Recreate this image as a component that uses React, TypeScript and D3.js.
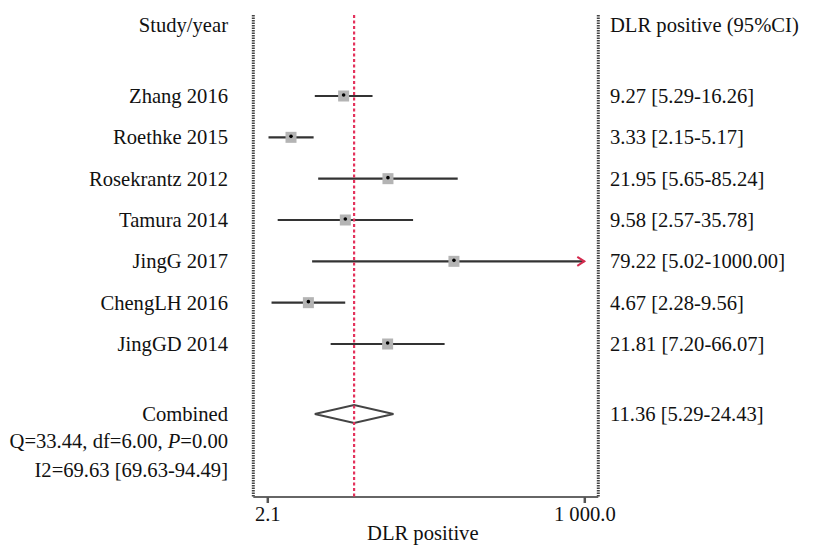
import React, { useEffect, useRef } from 'react';
import * as d3 from 'd3';

const studies = ['Zhang 2016', 'Roethke 2015', 'Rosekrantz 2012', 'Tamura 2014', 'JingG 2017', 'ChengLH 2016', 'JingGD 2014'];
const estimate = [9.27, 3.33, 21.95, 9.58, 79.22, 4.67, 21.81];
const lower = [5.29, 2.15, 5.65, 2.57, 5.02, 2.28, 7.2];
const upper = [16.26, 5.17, 85.24, 35.78, 1000.0, 9.56, 66.07];
const pooled = { est: 11.36, lo: 5.29, hi: 24.43 };
const tickValues = [2.1, 1000];
const tickLabels = ['2.1', '1 000.0'];
const statsQ = { q: '33.44', df: '6.00', p: '0.00' };
const statsI2 = 'I2=69.63 [69.63-94.49]';

const W = 813;
const H = 547;
const FONT = '"Liberation Serif", "Times New Roman", serif';
const FS = 20.6;

export default function App() {
  const axisRef = useRef<SVGGElement>(null);

  const x = d3.scaleLog().domain([2.1, 1000]).range([267.3, 584.3]);
  const y = d3.scalePoint<string>().domain(studies).range([96, 344]);
  const yPooled = 414;
  const axisY = 497;
  const boxTop = 15;
  const boxL = x(2.1) - 14;
  const boxR = x(1000) + 14;
  const labelX = 228;
  const ciX = 610;

  useEffect(() => {
    const g = d3.select(axisRef.current);
    g.selectAll('*').remove();
    g.call(
      d3.axisBottom(x)
        .tickValues(tickValues)
        .tickFormat((d, i) => tickLabels[i])
        .tickSize(6)
        .tickSizeOuter(0)
        .tickPadding(3)
    );
    g.select('.domain').remove();
    g.selectAll('.tick line').attr('stroke', '#555').attr('stroke-width', 2.5);
    g.selectAll('.tick text')
      .attr('font-family', FONT)
      .attr('font-size', FS)
      .attr('fill', '#111');
  }, []);

  const diamond = [
    [x(pooled.lo), yPooled],
    [x(pooled.est), yPooled - 9],
    [x(pooled.hi), yPooled],
    [x(pooled.est), yPooled + 9],
  ];

  return (
    <svg width={W} height={H} style={{ position: 'absolute', left: 0, top: 0, background: '#fff' }}>
      <g fontFamily={FONT} fontSize={FS} fill="#111">
        <text x={labelX} y={32} textAnchor="end">Study/year</text>
        <text x={ciX} y={32}>DLR positive (95%CI)</text>
        {studies.map((s, i) => (
          <g key={s}>
            <text x={labelX} y={(y(s) as number) + 7} textAnchor="end">{s}</text>
            <text x={ciX} y={(y(s) as number) + 7}>
              {`${estimate[i].toFixed(2)} [${lower[i].toFixed(2)}-${upper[i].toFixed(2)}]`}
            </text>
          </g>
        ))}
        <text x={labelX} y={yPooled + 7} textAnchor="end">Combined</text>
        <text x={ciX} y={yPooled + 7}>
          {`${pooled.est.toFixed(2)} [${pooled.lo.toFixed(2)}-${pooled.hi.toFixed(2)}]`}
        </text>
        <text x={labelX} y={448} textAnchor="end">
          {`Q=${statsQ.q}, df=${statsQ.df}, `}
          <tspan fontStyle="italic">P</tspan>
          {`=${statsQ.p}`}
        </text>
        <text x={labelX} y={477} textAnchor="end">{statsI2}</text>
        <text x={(boxL + boxR) / 2 - 3} y={540} textAnchor="middle">DLR positive</text>
      </g>

      {/* box sides */}
      <line x1={boxL} x2={boxL} y1={boxTop} y2={axisY} stroke="#444" strokeWidth={3} strokeDasharray="1.5,1" />
      <line x1={boxR} x2={boxR} y1={boxTop} y2={axisY} stroke="#444" strokeWidth={3} strokeDasharray="1.5,1" />
      <line x1={boxL} x2={boxR} y1={axisY} y2={axisY} stroke="#666" strokeWidth={2.2} />
      <g ref={axisRef} transform={`translate(0,${axisY})`} />

      {/* study CIs */}
      {studies.map((s, i) => {
        const cy = y(s) as number;
        const cx = x(estimate[i]);
        return (
          <g key={s}>
            <line x1={x(lower[i])} x2={x(upper[i])} y1={cy} y2={cy} stroke="#333" strokeWidth={2.2} />
            <rect x={cx - 5.5} y={cy - 5.5} width={11} height={11} fill="#b4b4b4" />
            <circle cx={cx} cy={cy - 1} r={1.8} fill="#000" />
            {upper[i] >= 1000 && (
              <path
                d={`M${x(upper[i]) - 7},${cy - 4.5} L${x(upper[i])},${cy} L${x(upper[i]) - 7},${cy + 4.5}`}
                fill="none"
                stroke="#d42a4e"
                strokeWidth={2}
              />
            )}
          </g>
        );
      })}

      {/* pooled diamond */}
      <polygon points={diamond.map((p) => p.join(',')).join(' ')} fill="#fff" stroke="#444" strokeWidth={1.8} />

      {/* pooled estimate reference line */}
      <line
        x1={x(pooled.est)}
        x2={x(pooled.est)}
        y1={boxTop}
        y2={axisY}
        stroke="#e3325c"
        strokeWidth={2.2}
        strokeDasharray="3,2.5"
      />
    </svg>
  );
}
